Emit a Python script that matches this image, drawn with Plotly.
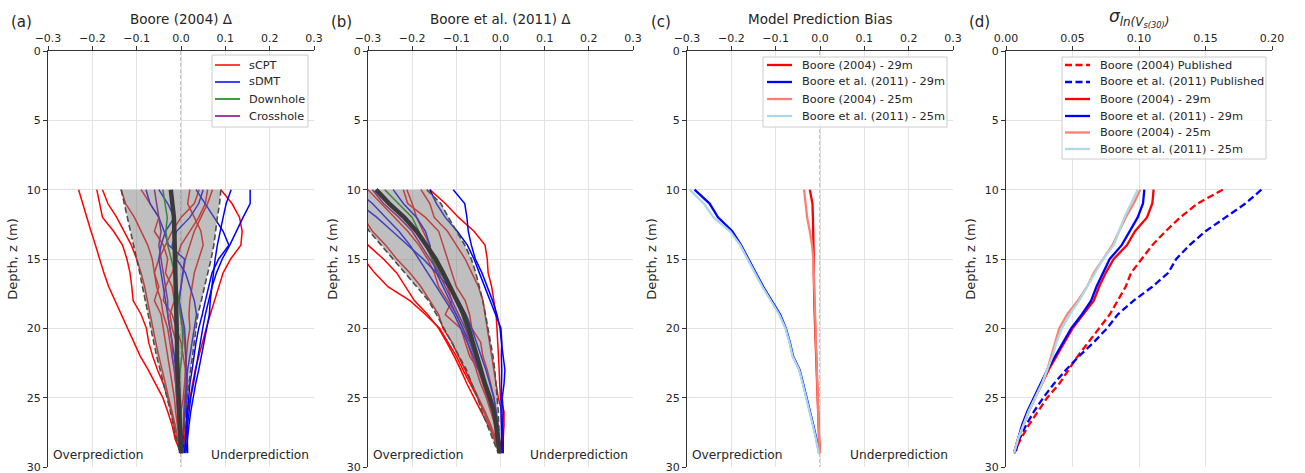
import plotly.graph_objects as go

# ---------------- data ----------------
depth = list(range(10, 30))  # 10..29 m

# Panel (a): Boore (2004) residuals
a_scpt = [
    [-0.231, -0.222, -0.212, -0.203, -0.193, -0.184, -0.174, -0.163, -0.149, -0.135, -0.121, -0.106, -0.092, -0.074, -0.057, -0.041, -0.030, -0.020, -0.013, 0.000],
    [-0.190, -0.184, -0.177, -0.152, -0.132, -0.122, -0.115, -0.111, -0.108, -0.090, -0.078, -0.073, -0.064, -0.053, -0.040, -0.030, -0.022, -0.016, -0.012, 0.000],
    [-0.177, -0.165, -0.145, -0.128, -0.112, -0.100, -0.090, -0.082, -0.076, -0.070, -0.064, -0.057, -0.050, -0.042, -0.035, -0.028, -0.020, -0.013, -0.007, 0.000],
    [-0.135, -0.125, -0.105, -0.090, -0.075, -0.065, -0.060, -0.050, -0.060, -0.045, -0.040, -0.035, -0.030, -0.025, -0.020, -0.015, -0.012, -0.008, -0.004, 0.000],
    [0.090, 0.115, 0.132, 0.138, 0.135, 0.112, 0.095, 0.085, 0.075, 0.066, 0.057, 0.049, 0.040, 0.032, 0.026, 0.020, 0.015, 0.011, 0.008, 0.004],
    [0.071, 0.060, 0.045, 0.030, 0.020, 0.010, 0.005, 0.000, -0.005, 0.000, 0.005, 0.008, 0.010, 0.012, 0.015, 0.012, 0.010, 0.008, 0.005, 0.003],
    [0.041, 0.030, 0.000, -0.020, -0.035, -0.050, -0.060, -0.055, -0.045, -0.040, -0.030, -0.025, -0.020, -0.015, -0.012, -0.010, -0.008, -0.006, -0.004, 0.000],
    [0.060, 0.055, 0.040, 0.020, 0.000, -0.010, -0.020, -0.035, -0.040, -0.020, -0.010, 0.000, 0.005, 0.010, 0.008, 0.005, 0.000, 0.000, 0.002, 0.003],
    [-0.090, -0.070, -0.050, -0.060, -0.040, -0.030, -0.035, -0.020, -0.015, -0.025, -0.020, -0.010, -0.012, -0.008, -0.006, -0.010, -0.005, -0.003, 0.000, 0.002],
    [0.020, 0.015, 0.030, 0.045, 0.050, 0.040, 0.030, 0.025, 0.020, 0.018, 0.020, 0.015, 0.012, 0.010, 0.012, 0.008, 0.006, 0.005, 0.004, 0.003],
]
a_sdmt = [
    [0.156, 0.156, 0.140, 0.125, 0.110, 0.093, 0.080, 0.070, 0.062, 0.055, 0.049, 0.044, 0.038, 0.033, 0.028, 0.022, 0.018, 0.014, 0.011, 0.008],
    [0.113, 0.102, 0.095, 0.088, 0.082, 0.077, 0.073, 0.069, 0.066, 0.064, 0.058, 0.052, 0.047, 0.040, 0.033, 0.027, 0.022, 0.018, 0.014, 0.011],
    [0.034, 0.055, 0.075, 0.095, 0.108, 0.085, 0.070, 0.062, 0.055, 0.048, 0.040, 0.034, 0.030, 0.025, 0.020, 0.017, 0.014, 0.012, 0.010, 0.008],
    [-0.079, -0.070, -0.050, -0.038, -0.028, 0.008, 0.004, 0.000, -0.004, 0.002, 0.008, 0.010, 0.011, 0.011, 0.012, 0.013, 0.013, 0.014, 0.014, 0.015],
    [-0.050, -0.030, -0.015, -0.035, -0.045, -0.050, -0.045, -0.040, -0.035, -0.030, -0.025, -0.020, -0.015, -0.012, -0.010, -0.008, -0.006, -0.004, -0.002, 0.000],
    [0.050, 0.040, 0.020, -0.010, -0.020, -0.010, 0.010, 0.020, 0.030, 0.035, 0.030, 0.025, 0.020, 0.015, 0.012, 0.010, 0.008, 0.006, 0.004, 0.005],
]
a_downhole = [-0.041, -0.036, -0.031, -0.034, -0.030, -0.022, -0.015, -0.010, -0.005, -0.002, 0.003, 0.004, 0.002, -0.002, -0.005, -0.007, -0.006, -0.004, -0.002, 0.000]
a_crosshole = [-0.060, -0.055, -0.050, -0.045, -0.050, -0.045, -0.040, -0.035, -0.030, -0.030, -0.025, -0.020, -0.020, -0.015, -0.012, -0.010, -0.008, -0.005, -0.003, 0.000]
a_lo = [-0.135, -0.128, -0.120, -0.113, -0.106, -0.099, -0.093, -0.087, -0.080, -0.074, -0.068, -0.062, -0.055, -0.047, -0.039, -0.031, -0.024, -0.017, -0.010, -0.002]
a_hi = [0.090, 0.087, 0.082, 0.078, 0.074, 0.068, 0.060, 0.053, 0.046, 0.038, 0.034, 0.030, 0.026, 0.021, 0.018, 0.014, 0.010, 0.007, 0.004, 0.005]
a_mean = [-0.023, -0.019, -0.016, -0.015, -0.014, -0.013, -0.012, -0.012, -0.011, -0.011, -0.010, -0.009, -0.009, -0.008, -0.007, -0.006, -0.005, -0.004, -0.002, 0.000]

# Panel (b): Boore et al. (2011) residuals
b_scpt = [
    [-0.160, -0.125, -0.095, -0.060, -0.035, -0.030, -0.028, -0.020, -0.015, -0.010, -0.008, -0.006, -0.004, -0.003, -0.002, 0.000, 0.008, 0.008, 0.006, 0.005],
    [-0.460, -0.430, -0.400, -0.370, -0.340, -0.310, -0.285, -0.255, -0.205, -0.170, -0.138, -0.118, -0.100, -0.085, -0.068, -0.052, -0.038, -0.025, -0.014, -0.003],
    [-0.400, -0.370, -0.345, -0.320, -0.300, -0.265, -0.235, -0.215, -0.195, -0.165, -0.140, -0.122, -0.105, -0.090, -0.076, -0.060, -0.044, -0.028, -0.012, -0.002],
    [-0.340, -0.325, -0.310, -0.290, -0.260, -0.235, -0.205, -0.180, -0.160, -0.140, -0.130, -0.110, -0.095, -0.080, -0.065, -0.050, -0.035, -0.022, -0.010, 0.000],
    [-0.212, -0.200, -0.190, -0.175, -0.160, -0.155, -0.130, -0.120, -0.110, -0.125, -0.090, -0.080, -0.070, -0.050, -0.040, -0.030, -0.018, -0.010, -0.004, 0.000],
    [-0.220, -0.210, -0.170, -0.140, -0.130, -0.120, -0.110, -0.100, -0.080, -0.070, -0.065, -0.045, -0.040, -0.030, -0.022, -0.015, -0.010, -0.005, -0.002, 0.003],
    [-0.300, -0.270, -0.240, -0.210, -0.185, -0.165, -0.150, -0.140, -0.120, -0.100, -0.085, -0.075, -0.065, -0.055, -0.045, -0.032, -0.022, -0.012, -0.006, 0.000],
    [-0.180, -0.160, -0.150, -0.120, -0.100, -0.080, -0.065, -0.050, -0.040, -0.035, -0.030, -0.025, -0.020, -0.015, -0.010, -0.005, 0.003, 0.005, 0.006, 0.005],
]
b_sdmt = [
    [-0.107, -0.081, -0.076, -0.073, -0.066, -0.057, -0.042, -0.030, -0.018, -0.008, -0.001, 0.002, 0.006, 0.010, 0.008, 0.004, 0.006, 0.005, 0.006, 0.006],
    [-0.160, -0.145, -0.125, -0.098, -0.075, -0.060, -0.048, -0.036, -0.024, -0.012, 0.001, 0.003, 0.002, 0.003, 0.002, 0.001, 0.001, 0.002, 0.003, 0.003],
    [-0.360, -0.320, -0.280, -0.245, -0.210, -0.175, -0.145, -0.118, -0.095, -0.078, -0.065, -0.055, -0.044, -0.033, -0.024, -0.015, -0.010, -0.006, -0.003, 0.000],
    [-0.330, -0.290, -0.260, -0.230, -0.205, -0.185, -0.165, -0.145, -0.125, -0.105, -0.090, -0.075, -0.062, -0.050, -0.038, -0.025, -0.015, -0.008, -0.003, 0.002],
    [-0.243, -0.220, -0.190, -0.170, -0.160, -0.155, -0.145, -0.130, -0.115, -0.100, -0.085, -0.070, -0.058, -0.046, -0.035, -0.025, -0.016, -0.008, -0.004, 0.000],
]
b_downhole = [-0.262, -0.230, -0.200, -0.185, -0.170, -0.155, -0.137, -0.115, -0.100, -0.088, -0.078, -0.068, -0.058, -0.048, -0.038, -0.028, -0.018, -0.010, -0.004, 0.000]
b_crosshole = [-0.290, -0.265, -0.230, -0.200, -0.180, -0.160, -0.140, -0.125, -0.110, -0.095, -0.080, -0.068, -0.058, -0.048, -0.038, -0.028, -0.018, -0.010, -0.004, 0.000]
b_lo = [-0.360, -0.340, -0.318, -0.297, -0.270, -0.243, -0.215, -0.188, -0.163, -0.145, -0.128, -0.110, -0.094, -0.077, -0.065, -0.052, -0.042, -0.030, -0.018, -0.005]
b_hi = [-0.167, -0.135, -0.118, -0.100, -0.081, -0.066, -0.056, -0.048, -0.040, -0.034, -0.028, -0.022, -0.017, -0.013, -0.010, -0.007, -0.005, -0.004, -0.003, -0.002]
b_mean = [-0.282, -0.252, -0.218, -0.190, -0.168, -0.147, -0.130, -0.115, -0.098, -0.083, -0.072, -0.063, -0.052, -0.043, -0.035, -0.024, -0.015, -0.010, -0.006, -0.002]

# Panel (c): model prediction bias
c_b04_29 = [-0.023, -0.017, -0.016, -0.015, -0.015, -0.014, -0.014, -0.014, -0.013, -0.012, -0.011, -0.010, -0.009, -0.008, -0.006, -0.005, -0.004, -0.003, -0.002, 0.000]
c_b11_29 = [-0.283, -0.249, -0.230, -0.198, -0.178, -0.162, -0.145, -0.128, -0.108, -0.090, -0.077, -0.068, -0.061, -0.046, -0.038, -0.030, -0.022, -0.015, -0.008, -0.002]
c_b04_25 = [-0.036, -0.032, -0.029, -0.023, -0.018, -0.015, -0.014, -0.014, -0.013, -0.012, -0.011, -0.010, -0.009, -0.008, -0.006, -0.005, -0.004, -0.003, -0.002, 0.000]
c_b11_25 = [-0.294, -0.262, -0.240, -0.203, -0.180, -0.164, -0.147, -0.130, -0.110, -0.092, -0.078, -0.069, -0.062, -0.047, -0.039, -0.031, -0.023, -0.016, -0.009, -0.003]

# Panel (d): sigma ln(Vs30)
d_b04_pub = [0.163, 0.144, 0.131, 0.120, 0.110, 0.102, 0.094, 0.090, 0.084, 0.078, 0.070, 0.062, 0.054, 0.047, 0.040, 0.031, 0.024, 0.017, 0.011, 0.006]
d_b11_pub = [0.192, 0.180, 0.165, 0.150, 0.138, 0.128, 0.122, 0.110, 0.096, 0.084, 0.076, 0.066, 0.055, 0.045, 0.036, 0.028, 0.021, 0.015, 0.010, 0.007]
d_b04_29 = [0.111, 0.110, 0.106, 0.097, 0.091, 0.081, 0.075, 0.070, 0.066, 0.058, 0.050, 0.044, 0.038, 0.032, 0.027, 0.022, 0.017, 0.013, 0.009, 0.006]
d_b11_29 = [0.104, 0.103, 0.099, 0.093, 0.087, 0.078, 0.073, 0.068, 0.064, 0.057, 0.049, 0.043, 0.037, 0.031, 0.026, 0.021, 0.016, 0.012, 0.009, 0.006]
d_b04_25 = [0.101, 0.096, 0.090, 0.085, 0.080, 0.073, 0.066, 0.061, 0.054, 0.046, 0.040, 0.037, 0.034, 0.031, 0.027, 0.022, 0.017, 0.013, 0.009, 0.006]
d_b11_25 = [0.099, 0.094, 0.089, 0.085, 0.081, 0.073, 0.067, 0.061, 0.055, 0.048, 0.042, 0.038, 0.035, 0.031, 0.027, 0.022, 0.017, 0.013, 0.009, 0.006]

delta_ticks = [-0.3, -0.2, -0.1, 0.0, 0.1, 0.2, 0.3]
delta_ticktext = ["\u22120.3", "\u22120.2", "\u22120.1", "0.0", "0.1", "0.2", "0.3"]
sigma_ticks = [0.0, 0.05, 0.10, 0.15, 0.20]
sigma_ticktext = ["0.00", "0.05", "0.10", "0.15", "0.20"]
depth_ticks = [0, 5, 10, 15, 20, 25, 30]

legend_a = ["sCPT", "sDMT", "Downhole", "Crosshole"]
legend_c = ["Boore (2004) - 29m", "Boore et al. (2011) - 29m", "Boore (2004) - 25m", "Boore et al. (2011) - 25m"]
legend_d = ["Boore (2004) Published", "Boore et al. (2011) Published"] + legend_c

# ---------------- styling ----------------
W, H = 1305, 473
FONT = "DejaVu Sans"
TXT = "#262626"
RED, BLUE, GREEN, PURPLE = "#ff0000", "#0000ff", "#008000", "#800080"
SALMON, LBLUE = "#fa8072", "#add8e6"
THIN, THICK = 1.5, 2.3

fig = go.Figure()

xdom = [(48, 314), (368, 633), (687, 953), (1006, 1272)]
ytop, ybot = 51, 467
ydom = [1 - ybot / H, 1 - ytop / H]

def ax_names(i):
    return ("x" if i == 0 else f"x{i+1}", "y" if i == 0 else f"y{i+1}")

def add_line(i, xs, color, width=THIN, dash="solid", name=None):
    xa, ya = ax_names(i)
    fig.add_trace(go.Scatter(
        x=xs, y=depth, mode="lines", xaxis=xa, yaxis=ya,
        line=dict(color=color, width=width, dash=dash),
        name=name, showlegend=False, hoverinfo="skip"))

# residual panels
for i, (scpt, sdmt, dh, ch, lo, hi, mean) in enumerate([
        (a_scpt, a_sdmt, a_downhole, a_crosshole, a_lo, a_hi, a_mean),
        (b_scpt, b_sdmt, b_downhole, b_crosshole, b_lo, b_hi, b_mean)]):
    for s in scpt:
        add_line(i, s, RED, name="sCPT")
    for s in sdmt:
        add_line(i, s, BLUE, name="sDMT")
    add_line(i, dh, GREEN, name="Downhole")
    add_line(i, ch, PURPLE, name="Crosshole")
    xa, ya = ax_names(i)
    fig.add_trace(go.Scatter(
        x=lo + hi[::-1], y=depth + depth[::-1], xaxis=xa, yaxis=ya,
        mode="lines", fill="toself", fillcolor="rgba(128,128,128,0.5)",
        line=dict(width=0), showlegend=False, hoverinfo="skip"))
    add_line(i, lo, "#4d4d4d", width=1.6, dash="6px,3px")
    add_line(i, hi, "#4d4d4d", width=1.6, dash="6px,3px")
    add_line(i, mean, "#3a3a3a", width=4.5)

# panel (c)
c_series = [(c_b04_29, RED), (c_b11_29, BLUE), (c_b04_25, SALMON), (c_b11_25, LBLUE)]
for (s, col), nm in zip(c_series, legend_c):
    add_line(2, s, col, width=THICK, name=nm)

# panel (d)
d_series = [(d_b04_pub, RED, "7px,3.5px"), (d_b11_pub, BLUE, "7px,3.5px"),
            (d_b04_29, RED, "solid"), (d_b11_29, BLUE, "solid"),
            (d_b04_25, SALMON, "solid"), (d_b11_25, LBLUE, "solid")]
for (s, col, ds), nm in zip(d_series, legend_d):
    add_line(3, s, col, width=THICK, dash=ds, name=nm)

layout = dict(
    width=W, height=H, margin=dict(l=0, r=0, t=0, b=0, autoexpand=False),
    paper_bgcolor="white", plot_bgcolor="white",
    font=dict(family=FONT, size=11, color=TXT),
    showlegend=False,
)
for i in range(4):
    xa, ya = ax_names(i)
    xk = "xaxis" if i == 0 else f"xaxis{i+1}"
    yk = "yaxis" if i == 0 else f"yaxis{i+1}"
    if i < 3:
        rng, tv, tt = [-0.3, 0.3], delta_ticks, delta_ticktext
    else:
        rng, tv, tt = [0.0, 0.2], sigma_ticks, sigma_ticktext
    layout[xk] = dict(
        domain=[xdom[i][0] / W, xdom[i][1] / W], range=rng, anchor=ya, side="top",
        showline=True, linecolor="#333333", linewidth=1, mirror=False,
        ticks="outside", ticklen=4, tickcolor="#333333",
        tickvals=tv, ticktext=tt, tickfont=dict(size=11, color=TXT),
        showgrid=True, gridcolor="#e2e2e2", gridwidth=1, zeroline=False,
        fixedrange=True, automargin=False, ticklabeloverflow="allow")
    layout[yk] = dict(
        domain=ydom, range=[30, 0], anchor=xa,
        showline=True, linecolor="#333333", linewidth=1,
        ticks="outside", ticklen=4, tickcolor="#333333",
        tickvals=depth_ticks, tickfont=dict(size=11, color=TXT),
        showgrid=True, gridcolor="#e2e2e2", gridwidth=1, zeroline=False,
        automargin=False, ticklabeloverflow="allow",
        title=dict(text="Depth, z (m)", font=dict(size=13, color=TXT), standoff=6))

fig.update_layout(**layout)

# zero reference lines
for i in range(3):
    xa, ya = ax_names(i)
    fig.add_shape(type="line", xref=xa, yref=ya, x0=0, x1=0, y0=0, y1=30,
                  line=dict(color="#8a8a8a", width=1, dash="4px,2px"), layer="below")

titles = ["Boore (2004) \u0394", "Boore et al. (2011) \u0394", "Model Prediction Bias",
          "<i>\u03c3</i><sub><i>ln(V<sub>s(30)</sub>)</i></sub>"]
letters = ["(a)", "(b)", "(c)", "(d)"]
letter_x = [9, 329, 649, 967]
for i in range(4):
    cx = (xdom[i][0] + xdom[i][1]) / 2 / W
    fig.add_annotation(text=titles[i], x=cx, y=1 - (19 if i < 3 else 18) / H, xref="paper", yref="paper",
                       xanchor="center", yanchor="middle", showarrow=False,
                       font=dict(size=17 if i == 3 else 13.5, color=TXT))
    fig.add_annotation(text=letters[i], x=letter_x[i] / W, y=1 - 22 / H, xref="paper", yref="paper",
                       xanchor="left", yanchor="middle", showarrow=False,
                       font=dict(size=15, color=TXT))
for i in range(3):
    xa, ya = ax_names(i)
    fig.add_annotation(text="Overprediction", x=0.012, y=29.15, xref=f"{xa} domain", yref=ya,
                       xanchor="left", yanchor="middle", showarrow=False, font=dict(size=12.2, color=TXT))
    fig.add_annotation(text="Underprediction", x=0.99, y=29.15, xref=f"{xa} domain", yref=ya,
                       xanchor="right", yanchor="middle", showarrow=False, font=dict(size=12.2, color=TXT))

# hand-drawn legends (matplotlib-like compact boxes)
def draw_legend(box, labels, styles, line_x, text_x, rows_y):
    x0, y0, x1, y1 = box
    fig.add_shape(type="rect", xref="paper", yref="paper",
                  x0=x0 / W, x1=x1 / W, y0=1 - y1 / H, y1=1 - y0 / H,
                  fillcolor="rgba(255,255,255,0.85)", line=dict(color="#cccccc", width=1), layer="above")
    for lab, (col, ds), ry in zip(labels, styles, rows_y):
        fig.add_shape(type="line", xref="paper", yref="paper",
                      x0=line_x[0] / W, x1=line_x[1] / W, y0=1 - ry / H, y1=1 - ry / H,
                      line=dict(color=col, width=THICK if ds != "thin" else THIN,
                                dash="solid" if ds in ("solid", "thin") else ds), layer="above")
        fig.add_annotation(text=lab, x=text_x / W, y=1 - ry / H, xref="paper", yref="paper",
                           xanchor="left", yanchor="middle", showarrow=False,
                           font=dict(size=11.3, color=TXT))

rows = [65, 82, 99, 116, 132.5, 149]
draw_legend((212, 55, 308, 127), legend_a,
            [(RED, "thin"), (BLUE, "thin"), (GREEN, "thin"), (PURPLE, "thin")],
            (215, 240), 247, rows[:4])
draw_legend((763, 57, 947, 127), legend_c,
            [(RED, "solid"), (BLUE, "solid"), (SALMON, "solid"), (LBLUE, "solid")],
            (767, 792), 800, rows[:4])
draw_legend((1062, 57, 1266, 159), legend_d,
            [(RED, "7px,3.5px"), (BLUE, "7px,3.5px"), (RED, "solid"), (BLUE, "solid"),
             (SALMON, "solid"), (LBLUE, "solid")],
            (1065, 1090), 1098, rows)

fig.write_html("out.html")
